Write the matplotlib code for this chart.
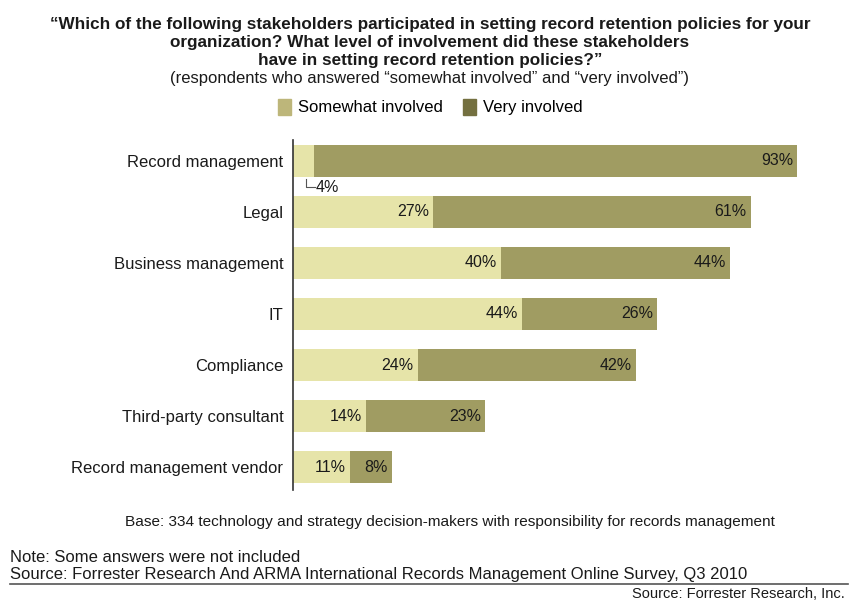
import matplotlib
matplotlib.use("Agg")
import matplotlib.pyplot as plt
from matplotlib.patches import Patch
from matplotlib import font_manager

categories = ["Record management", "Legal", "Business management", "IT",
              "Compliance", "Third-party consultant", "Record management vendor"]
somewhat = [4, 27, 40, 44, 24, 14, 11]
very = [93, 61, 44, 26, 42, 23, 8]

title_lines = [
    "\u201cWhich of the following stakeholders participated in setting record retention policies for your",
    "organization? What level of involvement did these stakeholders",
    "have in setting record retention policies?\u201d",
]

names = {f.name for f in font_manager.fontManager.ttflist}
family = ["Liberation Sans Narrow", "DejaVu Sans"] if "Liberation Sans Narrow" in names else ["Liberation Sans", "DejaVu Sans"]
plt.rcParams["font.family"] = family

light = "#e6e4a9"
dark = "#a09c62"
light_key = "#bdb67a"
dark_key = "#747040"
text_c = "#1a1a1a"

fig = plt.figure(figsize=(8.6, 6.03), dpi=100)
ax = fig.add_axes([293 / 860, 113 / 603, 520 / 860, 350 / 603])

y = list(range(len(categories)))
ax.barh(y, somewhat, height=0.63, color=light, edgecolor="none")
ax.barh(y, very, left=somewhat, height=0.63, color=dark, edgecolor="none")

for i, (s, v) in enumerate(zip(somewhat, very)):
    if s >= 8:
        ax.text(s - 0.8, i, f"{s}%", ha="right", va="center", fontsize=11.5, color=text_c)
    else:
        # small segment: label sits below the bar with a leader line
        ax.plot([s / 2 + 0.5, s / 2 + 0.5, s / 2 + 2.2], [i + 0.36, i + 0.52, i + 0.52],
                color="#555555", lw=0.8, clip_on=False)
        ax.text(s / 2 + 2.4, i + 0.52, f"{s}%", ha="left", va="center", fontsize=11.5, color=text_c)
    ax.text(s + v - 0.8, i, f"{v}%", ha="right", va="center", fontsize=11.5, color=text_c)

ax.set_xlim(0, 100)
ax.set_ylim(len(categories) - 1 + 0.45, -0.41)
ax.set_yticks(y)
ax.set_yticklabels(categories, fontsize=12, color=text_c)
ax.tick_params(axis="y", length=0, pad=7)
ax.set_xticks([])
for side in ("top", "right", "bottom"):
    ax.spines[side].set_visible(False)
ax.spines["left"].set_color("#333333")
ax.spines["left"].set_linewidth(1.2)

for line, ypx in zip(title_lines, [25, 43, 60]):
    fig.text(0.5, 1 - ypx / 603, line, ha="center", va="center", fontsize=12.3,
             fontweight="bold", color=text_c)
fig.text(0.5, 1 - 78 / 603, "(respondents who answered \u201csomewhat involved\u201d and \u201cvery involved\u201d)",
         ha="center", va="center", fontsize=12, color=text_c)

handles = [Patch(color=light_key, label="Somewhat involved"),
           Patch(color=dark_key, label="Very involved")]
fig.legend(handles=handles, loc="center", bbox_to_anchor=(0.5, 1 - 107 / 603), ncol=2,
           frameon=False, fontsize=12, handlelength=0.8, handleheight=1.1,
           handletextpad=0.4, columnspacing=1.2)

fig.text(450 / 860, 1 - 522 / 603,
         "Base: 334 technology and strategy decision-makers with responsibility for records management",
         ha="center", va="center", fontsize=11.1, color=text_c)
fig.text(10 / 860, 1 - 557 / 603, "Note: Some answers were not included",
         ha="left", va="center", fontsize=12, color=text_c)
fig.text(10 / 860, 1 - 574 / 603,
         "Source: Forrester Research And ARMA International Records Management Online Survey, Q3 2010",
         ha="left", va="center", fontsize=12, color=text_c)
fig.add_artist(plt.Line2D([10 / 860, 848 / 860], [1 - 584 / 603, 1 - 584 / 603],
                          color="#555555", lw=1.2))
fig.text(845 / 860, 1 - 594 / 603, "Source: Forrester Research, Inc.",
         ha="right", va="center", fontsize=10.5, color=text_c)

fig.savefig("out.png", dpi=100, facecolor="white")
